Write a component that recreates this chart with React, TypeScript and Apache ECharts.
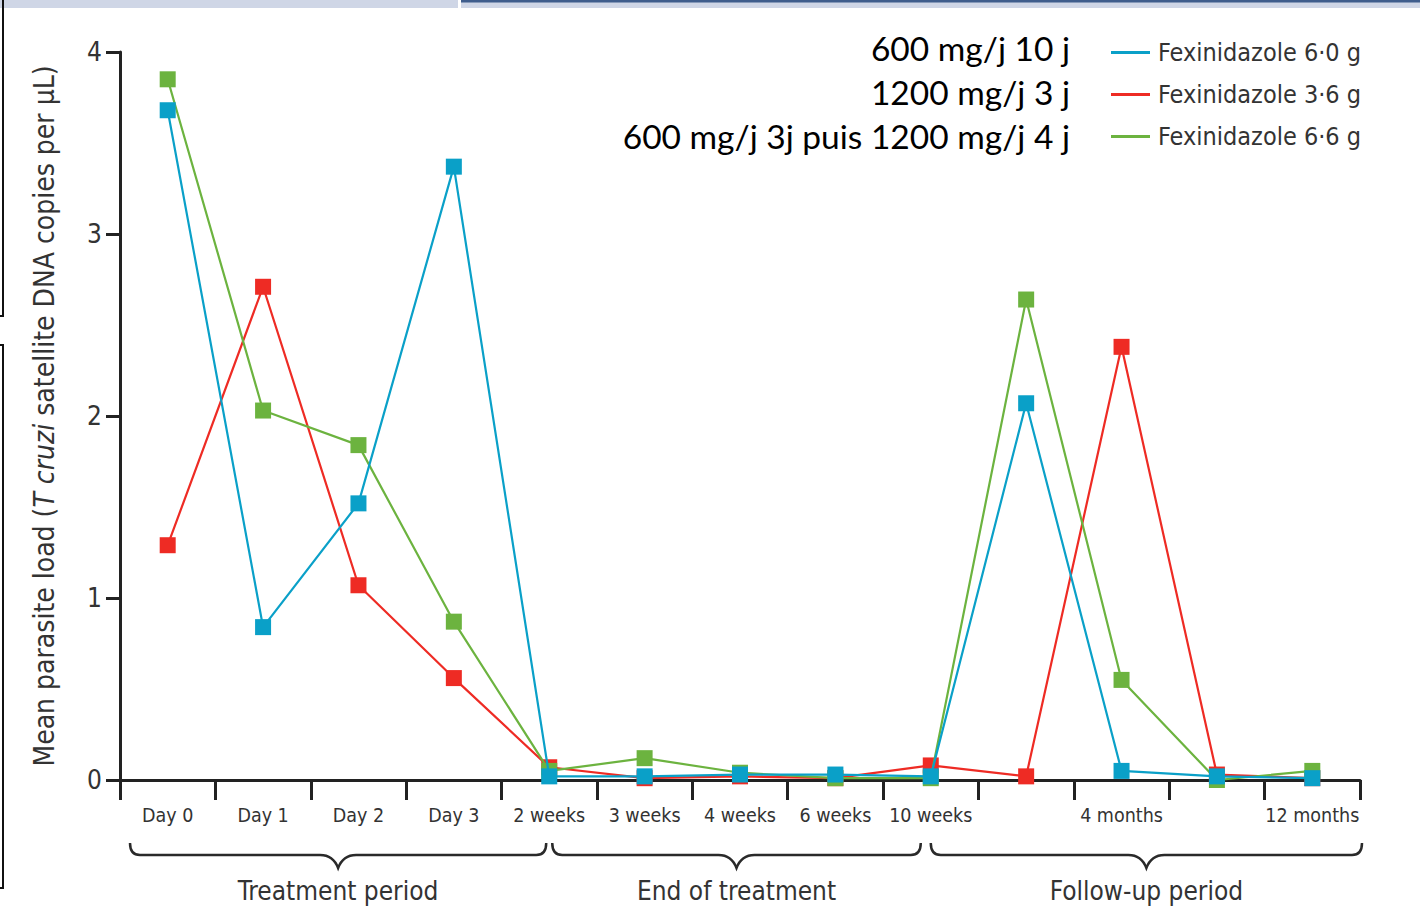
import React, { useEffect, useRef } from "react";
import * as echarts from "echarts";

const categories = ["Day 0", "Day 1", "Day 2", "Day 3", "2 weeks", "3 weeks", "4 weeks", "6 weeks", "10 weeks", "", "4 months", "", "12 months"];
const blue60 = [3.68, 0.84, 1.52, 3.37, 0.02, 0.02, 0.03, 0.03, 0.02, 2.07, 0.05, 0.02, 0.01];
const red36 = [1.29, 2.71, 1.07, 0.56, 0.07, 0.01, 0.02, 0.01, 0.08, 0.02, 2.38, 0.03, 0.01];
const green66 = [3.85, 2.03, 1.84, 0.87, 0.05, 0.12, 0.04, 0.01, 0.01, 2.64, 0.55, 0.0, 0.05];
const seriesNames = ["Fexinidazole 6·0 g", "Fexinidazole 3·6 g", "Fexinidazole 6·6 g"];
const doseLabels = ["600 mg/j 10 j", "1200 mg/j 3 j", "600 mg/j 3j puis 1200 mg/j 4 j"];
const periods = ["Treatment period", "End of treatment", "Follow-up period"];
const yTicks = { min: 0, max: 4, interval: 1 };

const COND = "'Liberation Sans Narrow', 'DejaVu Sans Condensed', 'Roboto Condensed', 'Noto Sans', sans-serif";
const BLUE = "#0aa0c8";
const RED = "#ee2b24";
const GREEN = "#6cb33f";

const GRID = { left: 120, right: 62, top: 52, bottom: 142 };
const W = 1422;
const H = 922;

function bracePath(x1: number, x2: number, m: number) {
  const y0 = 843, y1 = 855, y2 = 868;
  return `M${x1} ${y0} Q${x1} ${y1} ${x1 + 10} ${y1} L${m - 18} ${y1} Q${m - 5} ${y1} ${m} ${y2} Q${m + 5} ${y1} ${m + 18} ${y1} L${x2 - 10} ${y1} Q${x2} ${y1} ${x2} ${y0}`;
}

export default function App() {
  const ref = useRef<HTMLDivElement>(null);
  useEffect(() => {
    if (!ref.current) return;
    const chart = echarts.init(ref.current, null, { renderer: "svg", width: W, height: H });
    const plotW = W - GRID.left - GRID.right;
    const cw = plotW / categories.length;
    const cx = (i: number) => GRID.left + cw * (i + 0.5);
    const braces = [
      { x1: GRID.left + 10, x2: cx(4) - 3 },
      { x1: cx(4) + 3, x2: cx(8) - 10 },
      { x1: cx(8), x2: W - GRID.right + 2 },
    ];
    const braceGraphics: any[] = [];
    braces.forEach((b, i) => {
      const m = (b.x1 + b.x2) / 2;
      const name = "brace" + i;
      echarts.graphic.registerShape(name, echarts.graphic.extendPath(bracePath(b.x1, b.x2, m), {}) as any);
      braceGraphics.push({ type: name, x: 0, y: 0, style: { fill: "none", stroke: "#2a2a2a", lineWidth: 2.5 } });
      braceGraphics.push({
        type: "text",
        x: m,
        y: 891,
        style: { text: periods[i], font: `26px ${COND}`, fill: "#333", textAlign: "center", textVerticalAlign: "middle" },
      });
    });
    const mkSeries = (name: string, data: number[], color: string, z: number) => ({
      name,
      type: "line",
      data,
      z,
      symbol: "rect",
      symbolSize: 16,
      lineStyle: { color, width: 2.2 },
      itemStyle: { color },
    });
    chart.setOption({
      animation: false,
      backgroundColor: "#ffffff",
      grid: GRID,
      legend: {
        orient: "vertical",
        left: 1111,
        top: 40,
        padding: 0,
        icon: "rect",
        itemWidth: 39,
        itemHeight: 3,
        itemGap: 17,
        data: seriesNames,
        textStyle: { fontFamily: COND, fontSize: 25, color: "#333", padding: [0, 0, 0, 3] },
      },
      xAxis: {
        type: "category",
        data: categories,
        boundaryGap: true,
        axisLine: { lineStyle: { color: "#222", width: 3 } },
        axisTick: { show: true, length: 20, lineStyle: { color: "#222", width: 3 }, interval: 0 },
        axisLabel: { interval: 0, margin: 25, fontFamily: COND, fontSize: 19.5, color: "#333" },
        splitLine: { show: false },
      },
      yAxis: {
        type: "value",
        min: yTicks.min,
        max: yTicks.max,
        interval: yTicks.interval,
        name: "{n|Mean parasite load (}{i|T cruzi}{n| satellite DNA copies per μL)}",
        nameLocation: "middle",
        nameGap: 62,
        nameTextStyle: {
          rich: {
            n: { fontFamily: COND, fontSize: 28, color: "#333" },
            i: { fontFamily: COND, fontSize: 28, color: "#333", fontStyle: "italic" },
          },
        },
        axisLine: { show: true, lineStyle: { color: "#222", width: 3 } },
        axisTick: { show: true, length: 14, lineStyle: { color: "#222", width: 3 } },
        axisLabel: { margin: 18, fontFamily: COND, fontSize: 26, color: "#333" },
        splitLine: { show: false },
      },
      series: [
        mkSeries(seriesNames[1], red36, RED, 3),
        mkSeries(seriesNames[2], green66, GREEN, 4),
        mkSeries(seriesNames[0], blue60, BLUE, 5),
      ],
      graphic: [
        { type: "rect", shape: { x: 0, y: 0, width: 458, height: 8 }, style: { fill: "#cfd6e6" } },
        { type: "rect", shape: { x: 461, y: 0, width: 959, height: 8 }, style: { fill: "#cfd6e6" } },
        { type: "rect", shape: { x: 461, y: 0, width: 959, height: 2.5 }, style: { fill: "#3f5d8c" } },
        { type: "line", shape: { x1: 3, y1: 0, x2: 3, y2: 316 }, style: { stroke: "#111", lineWidth: 2 } },
        { type: "line", shape: { x1: 0, y1: 316, x2: 4, y2: 316 }, style: { stroke: "#111", lineWidth: 2 } },
        { type: "line", shape: { x1: 3, y1: 345, x2: 3, y2: 888 }, style: { stroke: "#111", lineWidth: 2 } },
        { type: "line", shape: { x1: 0, y1: 345, x2: 4, y2: 345 }, style: { stroke: "#111", lineWidth: 2 } },
        { type: "line", shape: { x1: 0, y1: 888, x2: 4, y2: 888 }, style: { stroke: "#111", lineWidth: 2 } },
        ...doseLabels.map((t, i) => ({
          type: "text",
          x: 1070,
          y: 48 + i * 44,
          style: { text: t, font: "33.5px Lato, 'Open Sans', sans-serif", fill: "#000", textAlign: "right", textVerticalAlign: "middle" },
        })),
        ...braceGraphics,
      ],
    });
    return () => chart.dispose();
  }, []);
  return <div ref={ref} style={{ position: "fixed", left: 0, top: 0, width: W, height: H, background: "#fff" }} />;
}
